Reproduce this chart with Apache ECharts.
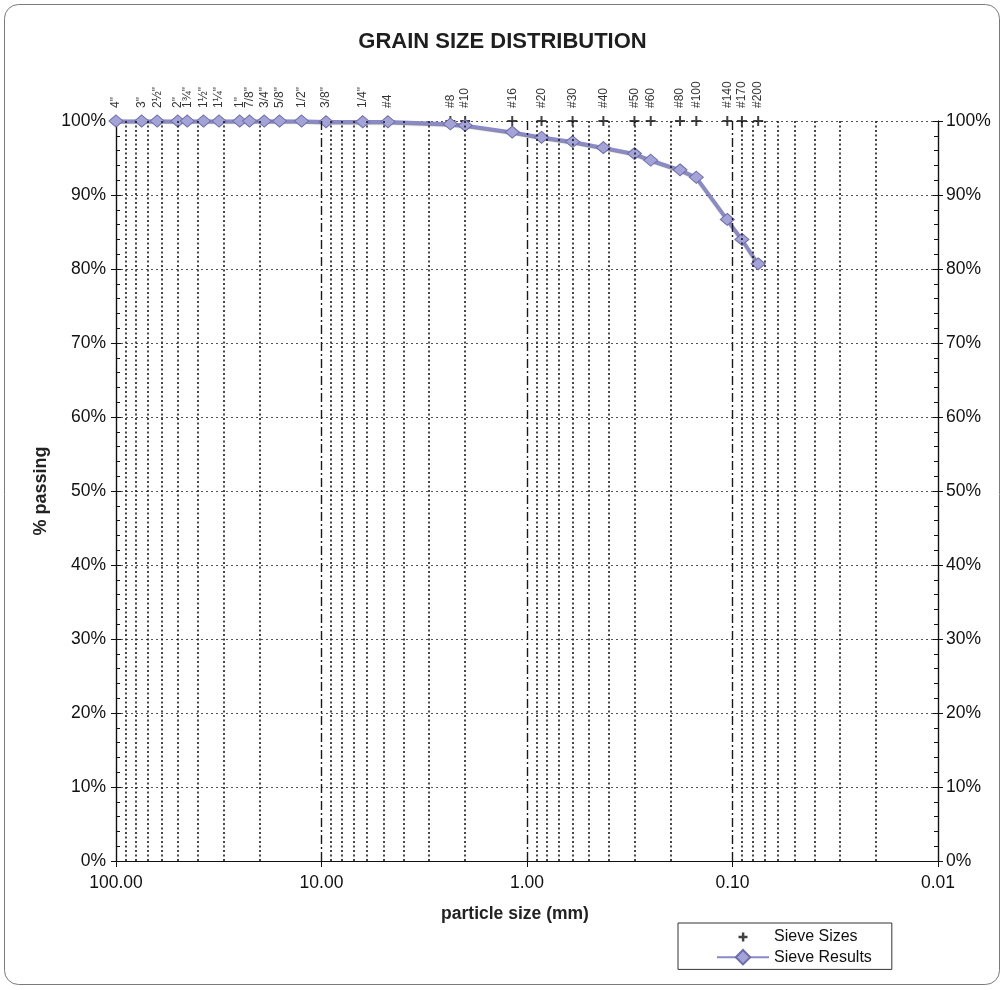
<!DOCTYPE html>
<html>
<head>
<meta charset="utf-8">
<title>Grain Size Distribution</title>
<script src="https://cdn.jsdelivr.net/npm/echarts@6/dist/echarts.min.js"></script>
<style>
  html, body { margin: 0; padding: 0; background: #ffffff; }
  #chart { width: 1005px; height: 990px; }
</style>
</head>
<body>
<div id="chart"></div>
<script>
// Sieve designations and their openings (mm)
const sieveLabels = ['4"', '3"', '2½"', '2"', '1¾"', '1½"', '1¼"', '1"', '7/8"', '3/4"', '5/8"', '1/2"', '3/8"', '1/4"',
  '#4', '#8', '#10', '#16', '#20', '#30', '#40', '#50', '#60', '#80', '#100', '#140', '#170', '#200'];
const sieveOpeningMm = [100, 75, 63, 50, 45, 37.5, 31.5, 25, 22.4, 19, 16, 12.5, 9.5, 6.3,
  4.75, 2.36, 2.0, 1.18, 0.85, 0.6, 0.425, 0.3, 0.25, 0.18, 0.15, 0.106, 0.09, 0.075];
// Marker row for the sieve sizes (plotted along the 100 % line)
const sieveMarkLevel = [100, 100, 100, 100, 100, 100, 100, 100, 100, 100, 100, 100, 100, 100,
  100, 100, 100, 100, 100, 100, 100, 100, 100, 100, 100, 100, 100, 100];
// Percent passing measured on each sieve
const percentPassing = [100, 100, 100, 100, 100, 100, 100, 100, 100, 100, 100, 100, 99.9, 99.9,
  99.9, 99.6, 99.4, 98.5, 97.8, 97.2, 96.4, 95.6, 94.7, 93.4, 92.4, 86.7, 84.0, 80.7];
// Axis ticks
const xTickValues = [100, 10, 1, 0.1, 0.01];
const yTickValues = [0, 10, 20, 30, 40, 50, 60, 70, 80, 90, 100];

const FONT = '"Liberation Sans", Arial, Helvetica, sans-serif';
const PLUS = 'path://M4,0H6V4H10V6H6V10H4V6H0V4H4Z';
// same cross, drawn smaller inside a larger empty box for the legend key
const PLUS_KEY = 'path://M0,0M16,16M7,4H9.2V6.9H12V9.1H9.2V12H7V9.1H4V6.9H7Z';

// Vertical grid: dotted lines at 2..9 within each decade, dash-dot at the decade lines
const minorGrid = [];
const majorGrid = [];
for (let d = 0; d < xTickValues.length - 1; d++) {
  const base = xTickValues[d + 1];
  for (let m = 2; m <= 9; m++) minorGrid.push({ xAxis: +(base * m).toPrecision(6) });
  if (d > 0) majorGrid.push({ xAxis: xTickValues[d] });
}

const chart = echarts.init(document.getElementById('chart'), null, { renderer: 'canvas' });

const yBase = {
  type: 'value', min: yTickValues[0], max: yTickValues[yTickValues.length - 1], interval: 10,
  axisLine: { show: true, lineStyle: { color: '#111', width: 1.2 } },
  splitLine: { show: false }
};
const tickFont = { fontFamily: FONT, fontSize: 17.5, color: '#111' };

const option = {
  backgroundColor: '#ffffff',
  animation: false,
  title: {
    text: 'GRAIN SIZE DISTRIBUTION',
    left: 'center', top: 26,
    textStyle: { fontFamily: FONT, fontSize: 22, fontWeight: 'bold', color: '#1e1e1e' }
  },
  graphic: [{
    type: 'rect', silent: true, z: -10,
    shape: { x: 4.5, y: 4.5, width: 995, height: 980, r: 14 },
    style: { fill: 'none', stroke: '#7a7a7a', lineWidth: 1 }
  }],
  legend: {
    data: [
      { name: 'Sieve Sizes', icon: PLUS_KEY },
      { name: 'Sieve Results' }
    ],
    orient: 'vertical',
    left: 678, top: 923,
    padding: [5, 20, 4, 38],
    itemGap: 3,
    itemWidth: 52, itemHeight: 18,
    borderColor: '#333', borderWidth: 1,
    backgroundColor: '#fff',
    textStyle: { fontFamily: FONT, fontSize: 16, color: '#111' }
  },
  grid: { left: 116, right: 67, top: 121, bottom: 129, containLabel: false },
  xAxis: [{
    type: 'log', logBase: 10, min: 0.01, max: 100, inverse: true,
    name: 'particle size (mm)', nameLocation: 'middle', nameGap: 44,
    nameTextStyle: { fontFamily: FONT, fontSize: 17.5, fontWeight: 'bold', color: '#222', padding: [0, 24, 0, 0] },
    axisLine: { show: true, lineStyle: { color: '#111', width: 1.2 } },
    axisTick: { show: true, inside: false, length: 6, lineStyle: { color: '#111' } },
    axisLabel: Object.assign({}, tickFont, { margin: 13, formatter: v => Number(v).toFixed(2) }),
    splitLine: { show: false }
  }],
  yAxis: [
    Object.assign({}, yBase, {
      position: 'left',
      name: '% passing', nameLocation: 'middle', nameGap: 62, nameRotate: 90,
      nameTextStyle: { fontFamily: FONT, fontSize: 18, fontWeight: 'bold', color: '#222' },
      axisTick: { show: true, inside: false, length: 5, lineStyle: { color: '#111' } },
      axisLabel: Object.assign({}, tickFont, { margin: 10, formatter: v => v + '%' }),
      splitLine: { show: true, lineStyle: { color: '#555', width: 1, type: [2, 3] } }
    }),
    Object.assign({}, yBase, {
      position: 'right',
      axisTick: { show: true, inside: false, length: 5, lineStyle: { color: '#111' } },
      axisLabel: Object.assign({}, tickFont, { margin: 8, formatter: v => v + '%' })
    }),
    Object.assign({}, yBase, {
      position: 'left',
      axisTick: { show: true, inside: true, length: 5, lineStyle: { color: '#111' } },
      minorTick: { show: true, splitNumber: 5, length: 4, lineStyle: { color: '#111' } },
      axisLabel: { show: false }
    }),
    Object.assign({}, yBase, {
      position: 'right',
      axisTick: { show: true, inside: true, length: 5, lineStyle: { color: '#111' } },
      minorTick: { show: true, splitNumber: 5, length: 4, lineStyle: { color: '#111' } },
      axisLabel: { show: false }
    })
  ],
  series: [
    {
      // vertical grid lines of the log axis
      name: 'grid', type: 'line', data: [], silent: true, z: 1,
      markLine: {
        silent: true, symbol: 'none', animation: false,
        label: { show: false },
        data: minorGrid.map(d => Object.assign({}, d, { lineStyle: { color: '#1a1a1a', width: 1.6, type: [2, 2.5] } }))
          .concat(majorGrid.map(d => Object.assign({}, d, { lineStyle: { color: '#1a1a1a', width: 1.4, type: [9, 3, 2, 3] } })))
      }
    },
    {
      name: 'Sieve Sizes', type: 'scatter', z: 3,
      data: sieveOpeningMm.map((x, i) => [x, sieveMarkLevel[i]]),
      symbol: PLUS,
      symbolSize: 10,
      itemStyle: { color: '#111' },
      label: {
        show: true, position: 'top', distance: 8, rotate: 90,
        align: 'left', verticalAlign: 'middle',
        fontFamily: FONT, fontSize: 12, color: '#000',
        formatter: p => sieveLabels[p.dataIndex]
      }
    },
    {
      name: 'Sieve Results', type: 'line', z: 4,
      data: sieveOpeningMm.map((x, i) => [x, percentPassing[i]]),
      symbol: 'diamond', symbolSize: [14, 12],
      lineStyle: { color: '#8a8ac8', width: 3.4, shadowColor: 'rgba(30,30,70,0.55)', shadowBlur: 1, shadowOffsetY: 1 },
      itemStyle: { color: '#a3a3d8', borderColor: '#6c6caa', borderWidth: 1 }
    }
  ]
};

chart.setOption(option);
</script>
</body>
</html>
